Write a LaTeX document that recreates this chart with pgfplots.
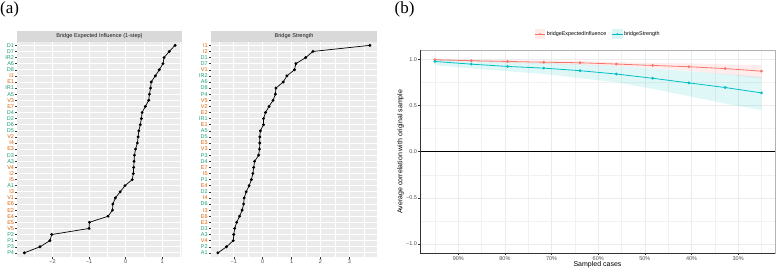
\documentclass[border=0pt]{standalone}
\usepackage{pgfplots}
\pgfplotsset{compat=1.18}
\usepackage{fontspec}
\setmainfont{Liberation Sans}
\newfontfamily\seriffont{Liberation Serif}
\definecolor{cg}{HTML}{1B9E77}
\definecolor{co}{HTML}{D95F02}
\definecolor{gg}{HTML}{EBEBEB}
\definecolor{stripc}{HTML}{D9D9D9}
\definecolor{tk}{HTML}{4D4D4D}
\definecolor{tm}{HTML}{333333}
\definecolor{rr}{HTML}{F8766D}
\definecolor{cc}{HTML}{00BFC4}
\newcommand{\LG}[1]{\textcolor{cg}{#1}}
\newcommand{\LO}[1]{\textcolor{co}{#1}}
\pgfplotsset{
 panelA/.style={
  scale only axis, height=214.8pt,
  ymin=0.4, ymax=35.6,
  axis background/.style={fill=gg},
  axis line style={draw=none},
  grid=both,
  major grid style={white, line width=0.9pt},
  minor grid style={white, line width=0.45pt},
  ytick={1,...,35},
  tick align=outside, major tick length=2pt, minor tick length=0pt,
  tick style={tm, line width=0.45pt},
  xtick pos=left, ytick pos=left,
  ticklabel style={font=\fontsize{5.5}{6}\selectfont, text=tk},
  yticklabel style={inner sep=0.8pt},
  xticklabel style={inner sep=1pt},
  clip=false,
 },
 datA/.style={black, line width=0.7pt, mark=*, mark size=1.1pt},
}
\begin{document}
\begin{tikzpicture}
\useasboundingbox (0,0) rectangle (778pt,269pt);
\node[anchor=north west, inner sep=0pt, font=\seriffont\fontsize{17}{18}\selectfont] at (0pt,267pt) {(a)};
\node[anchor=north west, inner sep=0pt, font=\seriffont\fontsize{17}{18}\selectfont] at (394.5pt,267pt) {(b)};

% Panel a1: Bridge Expected Influence
\begin{axis}[panelA, at={(17pt,12.5pt)}, anchor=south west, width=165pt,
  xmin=-2.97, xmax=1.54,
  xtick={-2,-1,0,1}, xticklabels={−2,−1,0,1},
  minor xtick={-2.5,-1.5,-0.5,0.5,1.5},
  yticklabels={\LG{P4},\LG{P3},\LG{P1},\LG{P2},\LO{V5},\LO{E5},\LO{E4},\LO{E2},\LO{E6},\LO{V1},\LO{I3},\LG{A1},\LO{I5},\LO{I2},\LO{V4},\LG{A3},\LG{D3},\LO{E3},\LO{I4},\LO{V2},\LG{D5},\LG{D6},\LG{D2},\LG{D4},\LO{E7},\LO{V3},\LG{A5},\LG{IR1},\LO{E1},\LO{I1},\LG{D8},\LG{A6},\LG{IR2},\LG{D7},\LG{D1}},
]
\addplot[datA] coordinates {
(-2.77,1) (-2.34,2) (-2.07,3) (-2.02,4) (-1.00,5) (-0.99,6) (-0.48,7) (-0.36,8) (-0.35,9) (-0.28,10)
(-0.15,11) (-0.02,12) (0.18,13) (0.21,14) (0.22,15) (0.23,16) (0.24,17) (0.27,18) (0.32,19) (0.34,20)
(0.36,21) (0.40,22) (0.43,23) (0.45,24) (0.54,25) (0.63,26) (0.65,27) (0.68,28) (0.70,29) (0.81,30)
(0.92,31) (1.02,32) (1.05,33) (1.19,34) (1.35,35)};
\fill[stripc] (rel axis cs:0,1) rectangle ([yshift=10.7pt]rel axis cs:1,1);
\node[font=\fontsize{5.6}{6}\selectfont, text=black!90, inner sep=0pt] at ([yshift=5.35pt]rel axis cs:0.5,1) {Bridge Expected Influence (1-step)};
\end{axis}

% Panel a2: Bridge Strength
\begin{axis}[panelA, at={(210.7pt,12.5pt)}, anchor=south west, width=166.6pt,
  xmin=-1.8, xmax=3.97,
  xtick={-1,0,1,2,3}, xticklabels={−1,0,1,2,3},
  minor xtick={-1.5,-0.5,0.5,1.5,2.5,3.5},
  yticklabels={\LG{A1},\LG{P2},\LO{V4},\LG{A3},\LG{D3},\LO{E3},\LO{E6},\LO{I3},\LG{D6},\LO{I4},\LG{D2},\LO{E4},\LG{P1},\LO{I5},\LO{E7},\LG{D4},\LG{P3},\LO{V3},\LO{E5},\LG{D5},\LG{A5},\LO{E1},\LG{IR1},\LO{E2},\LO{V2},\LO{V5},\LG{P4},\LG{D8},\LG{A6},\LG{IR2},\LO{V1},\LG{D7},\LG{D1},\LO{I2},\LO{I1}},
]
\addplot[datA] coordinates {
(-1.55,1) (-1.25,2) (-1.02,3) (-1.00,4) (-0.97,5) (-0.90,6) (-0.80,7) (-0.71,8) (-0.66,9) (-0.64,10)
(-0.57,11) (-0.47,12) (-0.39,13) (-0.34,14) (-0.31,15) (-0.28,16) (-0.14,17) (-0.11,18) (-0.10,19) (-0.10,20)
(-0.08,21) (0.03,22) (0.03,23) (0.10,24) (0.22,25) (0.36,26) (0.44,27) (0.46,28) (0.71,29) (0.84,30)
(1.10,31) (1.15,32) (1.49,33) (1.74,34) (3.71,35)};
\fill[stripc] (rel axis cs:0,1) rectangle ([yshift=10.7pt]rel axis cs:1,1);
\node[font=\fontsize{5.6}{6}\selectfont, text=black!90, inner sep=0pt] at ([yshift=5.35pt]rel axis cs:0.5,1) {Bridge Strength};
\end{axis}

% Panel b
\begin{axis}[name=bax, at={(420pt,15.7pt)}, anchor=south west, scale only axis, width=355pt, height=203.3pt,
  xmin=22.1, xmax=98.2, x dir=reverse, ymin=-1.1, ymax=1.1,
  xtick={30,40,50,60,70,80,90}, xticklabels={30\%,40\%,50\%,60\%,70\%,80\%,90\%},
  minor xtick={25,35,45,55,65,75,85,95},
  ytick={-1,-0.5,0,0.5,1}, yticklabels={−1.0,−0.5,0.0,0.5,1.0},
  minor ytick={-0.75,-0.25,0.25,0.75},
  grid=both,
  major grid style={gg, line width=0.55pt},
  minor grid style={gg!70, line width=0.3pt},
  axis line style={gray!60, line width=0.5pt},
  tick align=outside, major tick length=2pt, minor tick length=0pt,
  tick style={tm, line width=0.45pt},
  xtick pos=left, ytick pos=left,
  ticklabel style={font=\fontsize{5.5}{6}\selectfont, text=tk},
  yticklabel style={inner sep=0.8pt},
  xticklabel style={inner sep=1pt},
  legend style={at={(0.5,1)}, anchor=center, yshift=16pt, draw=none, fill=none,
    font=\fontsize{5.4}{6}\selectfont, inner sep=0pt,
    nodes={inner sep=1.2pt},
    /tikz/every even column/.append style={column sep=4pt}},
  legend columns=2, legend cell align=left,
]
\addplot[draw=none, fill=rr, fill opacity=0.13, forget plot] coordinates {
(95,1.0) (87.22,0.995) (79.44,0.99) (71.67,0.985) (63.89,0.98) (56.11,0.97) (48.33,0.96) (40.56,0.955) (32.78,0.945) (25,0.935)
(25,0.79) (32.78,0.835) (40.56,0.875) (48.33,0.905) (56.11,0.925) (63.89,0.94) (71.67,0.95) (79.44,0.962) (87.22,0.972) (95,0.985)};
\addplot[draw=none, fill=cc, fill opacity=0.12, forget plot] coordinates {
(95,0.995) (87.22,0.985) (79.44,0.972) (71.67,0.96) (63.89,0.945) (56.11,0.925) (48.33,0.9) (40.56,0.87) (32.78,0.84) (25,0.81)
(25,0.45) (32.78,0.52) (40.56,0.6) (48.33,0.68) (56.11,0.75) (63.89,0.795) (71.67,0.84) (79.44,0.87) (87.22,0.90) (95,0.935)};
\draw[black, line width=0.9pt] (axis cs:98.2,0) -- (axis cs:22.1,0);
\addplot[rr, line width=0.8pt, mark=*, mark size=1pt,
  legend image code/.code={\path[fill=rr, fill opacity=0.15, draw=none] (0pt,-4.6pt) rectangle (10.7pt,4.6pt); \draw[rr, line width=0.8pt] (0pt,0pt) -- (10.7pt,0pt); \path[fill=rr, draw=none] (5.35pt,0pt) circle (1pt);}]
coordinates {(95,0.995) (87.22,0.984) (79.44,0.976) (71.67,0.968) (63.89,0.962) (56.11,0.948) (48.33,0.933) (40.56,0.919) (32.78,0.899) (25,0.871)};
\addlegendentry{bridgeExpectedInfluence}
\addplot[cc, line width=0.8pt, mark=*, mark size=1pt,
  legend image code/.code={\path[fill=cc, fill opacity=0.15, draw=none] (0pt,-4.6pt) rectangle (10.7pt,4.6pt); \draw[cc, line width=0.8pt] (0pt,0pt) -- (10.7pt,0pt); \path[fill=cc, draw=none] (5.35pt,0pt) circle (1pt);}]
coordinates {(95,0.976) (87.22,0.947) (79.44,0.922) (71.67,0.904) (63.89,0.876) (56.11,0.84) (48.33,0.794) (40.56,0.744) (32.78,0.694) (25,0.636)};
\addlegendentry{bridgeStrength}
\end{axis}
\draw[black!80, line width=0.7pt] (bax.north west) -- (bax.south west) -- (bax.south east);
\node[font=\fontsize{7}{8}\selectfont, anchor=center] at ([yshift=-11.7pt]bax.south) {Sampled cases};
\node[font=\fontsize{7}{8}\selectfont, anchor=center, rotate=90] at ([xshift=-19.5pt]bax.west) {Average correlation with original sample};
\end{tikzpicture}
\end{document}
